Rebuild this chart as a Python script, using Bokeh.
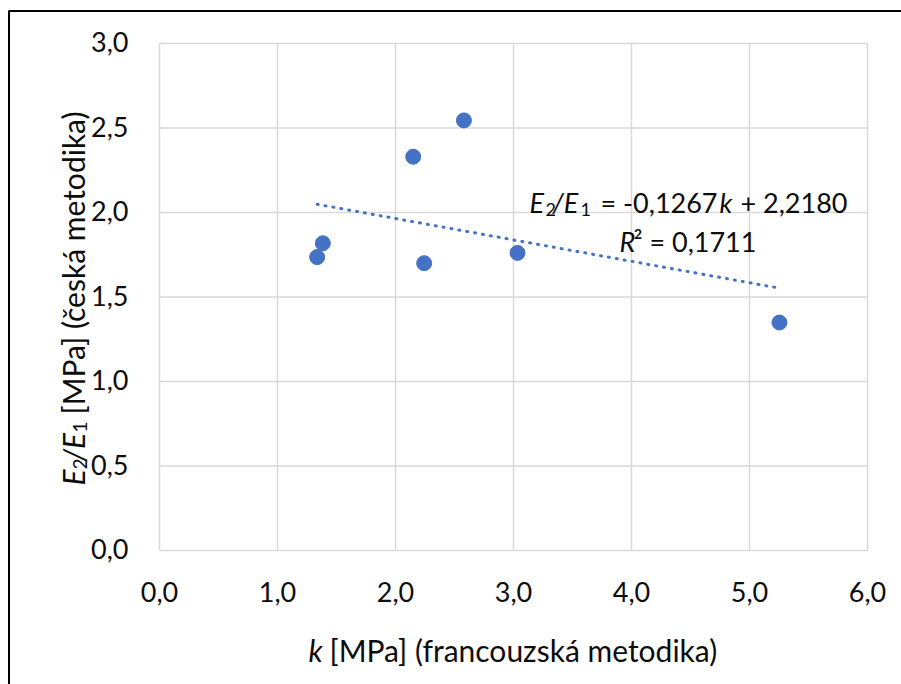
import numpy as np
from bokeh.plotting import figure
from bokeh.models import Range1d, Label
from bokeh.core.properties import value
from bokeh.embed import file_html
from bokeh.resources import INLINE

# ---- data ----
k_vals = [1.336, 1.384, 2.15, 2.58, 2.243, 3.034, 5.254]
e_ratio = [1.736, 1.818, 2.33, 2.545, 1.70, 1.761, 1.349]
trend_slope = -0.1267
trend_intercept = 2.2180
x_ticks = [0, 1, 2, 3, 4, 5, 6]
y_ticks = [0, 0.5, 1.0, 1.5, 2.0, 2.5, 3.0]
x_tick_labels = ["0,0", "1,0", "2,0", "3,0", "4,0", "5,0", "6,0"]
y_tick_labels = ["0,0", "0,5", "1,0", "1,5", "2,0", "2,5", "3,0"]

FONT = "Lato"
BLUE = "#4472C4"
TXT = "#0d0d0d"
GRID = "#d9d9d9"
W, H = 901, 684
# plot-area pixel box inside the canvas
L, R, T, B = 159, 867, 43, 550
XMAX, YMAX = 6.0, 3.0
PX_Y = YMAX / (B - T)  # data units per vertical pixel

def dx(px):
    return (px - L) / (R - L) * XMAX

def dy(py):
    return (B - py) / (B - T) * YMAX

# the frame spans the whole canvas so that titles and border are not clipped
p = figure(width=W, height=H, output_backend="svg", toolbar_location=None,
           x_range=Range1d(dx(0), dx(W)), y_range=Range1d(dy(H), dy(0)),
           x_axis_location=None, y_axis_location=None,
           min_border_left=0, min_border_right=0, min_border_top=0, min_border_bottom=0)
p.background_fill_color = "white"
p.border_fill_color = "white"
p.outline_line_color = None
p.grid.visible = False

# gridlines (including plot-area edges) from the tick arrays
p.segment(x0=x_ticks, y0=[0] * len(x_ticks), x1=x_ticks, y1=[YMAX] * len(x_ticks),
          line_color=GRID, line_width=1.5)
p.segment(x0=[0] * len(y_ticks), y0=y_ticks, x1=[XMAX] * len(y_ticks), y1=y_ticks,
          line_color=GRID, line_width=1.5)

# tick labels
p.text(x=x_ticks, y=[dy(591)] * len(x_ticks), text=x_tick_labels,
       text_font=value(FONT), text_font_size="27px", text_color=TXT,
       text_align="center", text_baseline="middle")
p.text(x=[dx(128)] * len(y_ticks), y=[t + 1.5 * PX_Y for t in y_ticks], text=y_tick_labels,
       text_font=value(FONT), text_font_size="27px", text_color=TXT,
       text_align="right", text_baseline="middle")

# trend line (Excel linear trendline over data range)
tx = np.array([min(k_vals), max(k_vals)])
ty = trend_slope * tx + trend_intercept
p.line(tx, ty, line_color=BLUE, line_width=3, line_dash="1 7", line_cap="round")

p.scatter(k_vals, e_ratio, size=15, fill_color=BLUE, line_color=BLUE)

def lab(text, px, py, size=27, italic=False, angle=0.0):
    p.add_layout(Label(x=dx(px), y=dy(py), text=text, text_font=FONT,
                       text_font_size=f"{size}px", text_color=TXT,
                       text_font_style="italic" if italic else "normal",
                       text_baseline="alphabetic", text_align="left", angle=angle))

# trendline equation
lab("E", 529, 202, 27, True)
lab("2", 545, 209, 18)
lab("/E", 552, 202, 27, True)
lab("1", 580, 209, 18)
lab("= -0,1267", 600, 202, 27)
lab("k", 719, 202, 27, True)
lab("+ 2,2180", 740, 202, 27)
lab("R", 619, 241, 27, True)
lab("\u00b2 = 0,1711", 633, 241, 27)

# x axis title
lab("k", 308, 649, 30, True)
lab("[MPa] (francouzsk\u00e1 metodika)", 329, 649, 30)

# y axis title (rotated)
A = np.pi / 2
lab("E", 72, 485, 30, True, A)
lab("2", 79, 469, 19, False, A)
lab("/E", 72, 461, 30, True, A)
lab("1", 79, 432, 19, False, A)
lab("[MPa] (\u010desk\u00e1 metodika)", 72, 414, 30, False, A)

# outer chart border (open to the right and bottom, as in the source image)
p.line([dx(8.5), dx(8.5), dx(W + 20)], [dy(H + 20), dy(10.5), dy(10.5)],
       line_color="black", line_width=2)

open("out.html", "w").write(file_html(p, INLINE))
